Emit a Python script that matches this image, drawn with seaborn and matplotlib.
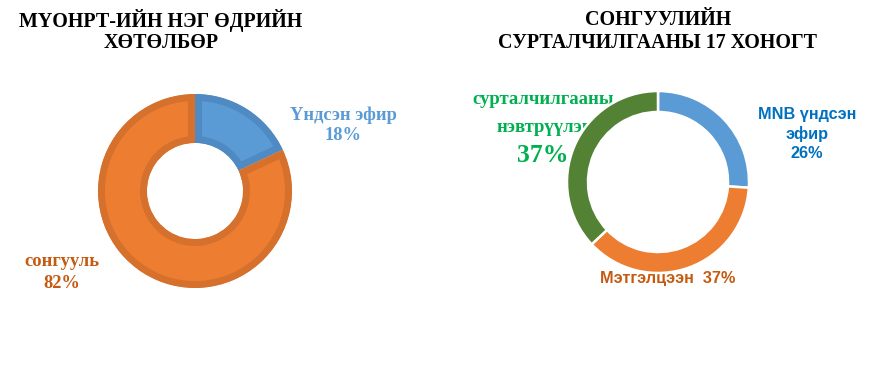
import matplotlib
matplotlib.use("Agg")
import matplotlib.pyplot as plt
import seaborn as sns

sns.set_theme(style="white")
plt.rcParams['font.family'] = ['Liberation Serif', 'DejaVu Serif']

# ---- data ----
left_title = "МҮОНРТ-ИЙН НЭГ ӨДРИЙН\nХӨТӨЛБӨР"
left_labels = ["Үндсэн эфир", "сонгууль"]
left_values = [18, 82]
left_colors = ["#5B9BD5", "#ED7D31"]
left_edges = ["#4F8AC3", "#D5702D"]

right_title = "СОНГУУЛИЙН\nСУРТАЛЧИЛГААНЫ 17 ХОНОГТ"
right_labels = ["MNB үндсэн\nэфир", "Мэтгэлцээн", "сурталчилгааны\nнэвтрүүлэг"]
right_values = [26, 37, 37]
right_colors = ["#5B9BD5", "#ED7D31", "#548235"]

W, H = 877, 387
fig = plt.figure(figsize=(W / 100, H / 100), dpi=100)
fig.patch.set_facecolor("white")

def px(x, y):
    return x / W, 1 - y / H

# ---- left donut ----
ax1 = fig.add_axes([0, 0, 0.5, 1])
cx1, cy1, r1 = 195, 191, 97
wedges, _ = ax1.pie(left_values, colors=left_colors, startangle=90, counterclock=False,
                    radius=r1, explode=[0.047, 0],
                    wedgeprops=dict(width=49, linewidth=10))
for w, ec in zip(wedges, left_edges):
    w.set_edgecolor(ec)
    w.set_clip_on(True)
    w.set_clip_path(w)  # inner stroke
ax1.set_xlim(-cx1, W / 2 - cx1)
ax1.set_ylim(cy1 - H, cy1)
ax1.set_aspect("auto")
ax1.axis("off")

# ---- right donut ----
ax2 = fig.add_axes([0.5, 0, 0.5, 1])
cx2, cy2, r2 = 658, 182, 91
ax2.pie(right_values, colors=right_colors, startangle=90, counterclock=False,
        radius=r2, wedgeprops=dict(width=21, edgecolor="white", linewidth=1.8))
ax2.set_xlim(-(cx2 - W / 2), W - cx2)
ax2.set_ylim(cy2 - H, cy2)
ax2.set_aspect("auto")
ax2.axis("off")

serif = ['Liberation Serif', 'DejaVu Serif']
sans = ['Liberation Sans', 'DejaVu Sans']

def label(x, y, s, size, fam, color):
    fig.text(*px(x, y), s, ha="center", va="center", fontsize=size,
             fontweight="bold", family=fam, color=color, zorder=-1)

# titles
for i, line in enumerate(left_title.split("\n")):
    label(161, 20 + 23 * i, line, 14.4, serif, "black")
for i, line in enumerate(right_title.split("\n")):
    label(658, 20 + 23 * i, line, 14.4, serif, "black")

# left labels
label(343, 115, left_labels[0], 13.3, serif, "#5B9BD5")
label(343, 136, f"{left_values[0]}%", 13.3, serif, "#5B9BD5")
label(62, 262, left_labels[1], 13.3, serif, "#C55A11")
label(62, 283, f"{left_values[1]}%", 13.3, serif, "#C55A11")

# right labels
l0 = right_labels[0].split("\n")
label(807, 115, l0[0], 11.7, sans, "#0070C0")
label(807, 134, l0[1], 11.7, sans, "#0070C0")
label(807, 153, f"{right_values[0]}%", 11.7, sans, "#0070C0")
label(668, 279, f"{right_labels[1]}  {right_values[1]}%", 11.7, sans, "#C55A11")
l2 = right_labels[2].split("\n")
label(543, 100, l2[0], 13.5, serif, "#00B050")
label(544, 128, l2[1], 13.5, serif, "#00B050")
label(543, 155, f"{right_values[2]}%", 18.5, serif, "#00B050")

fig.savefig("out.png", dpi=100, facecolor="white")
